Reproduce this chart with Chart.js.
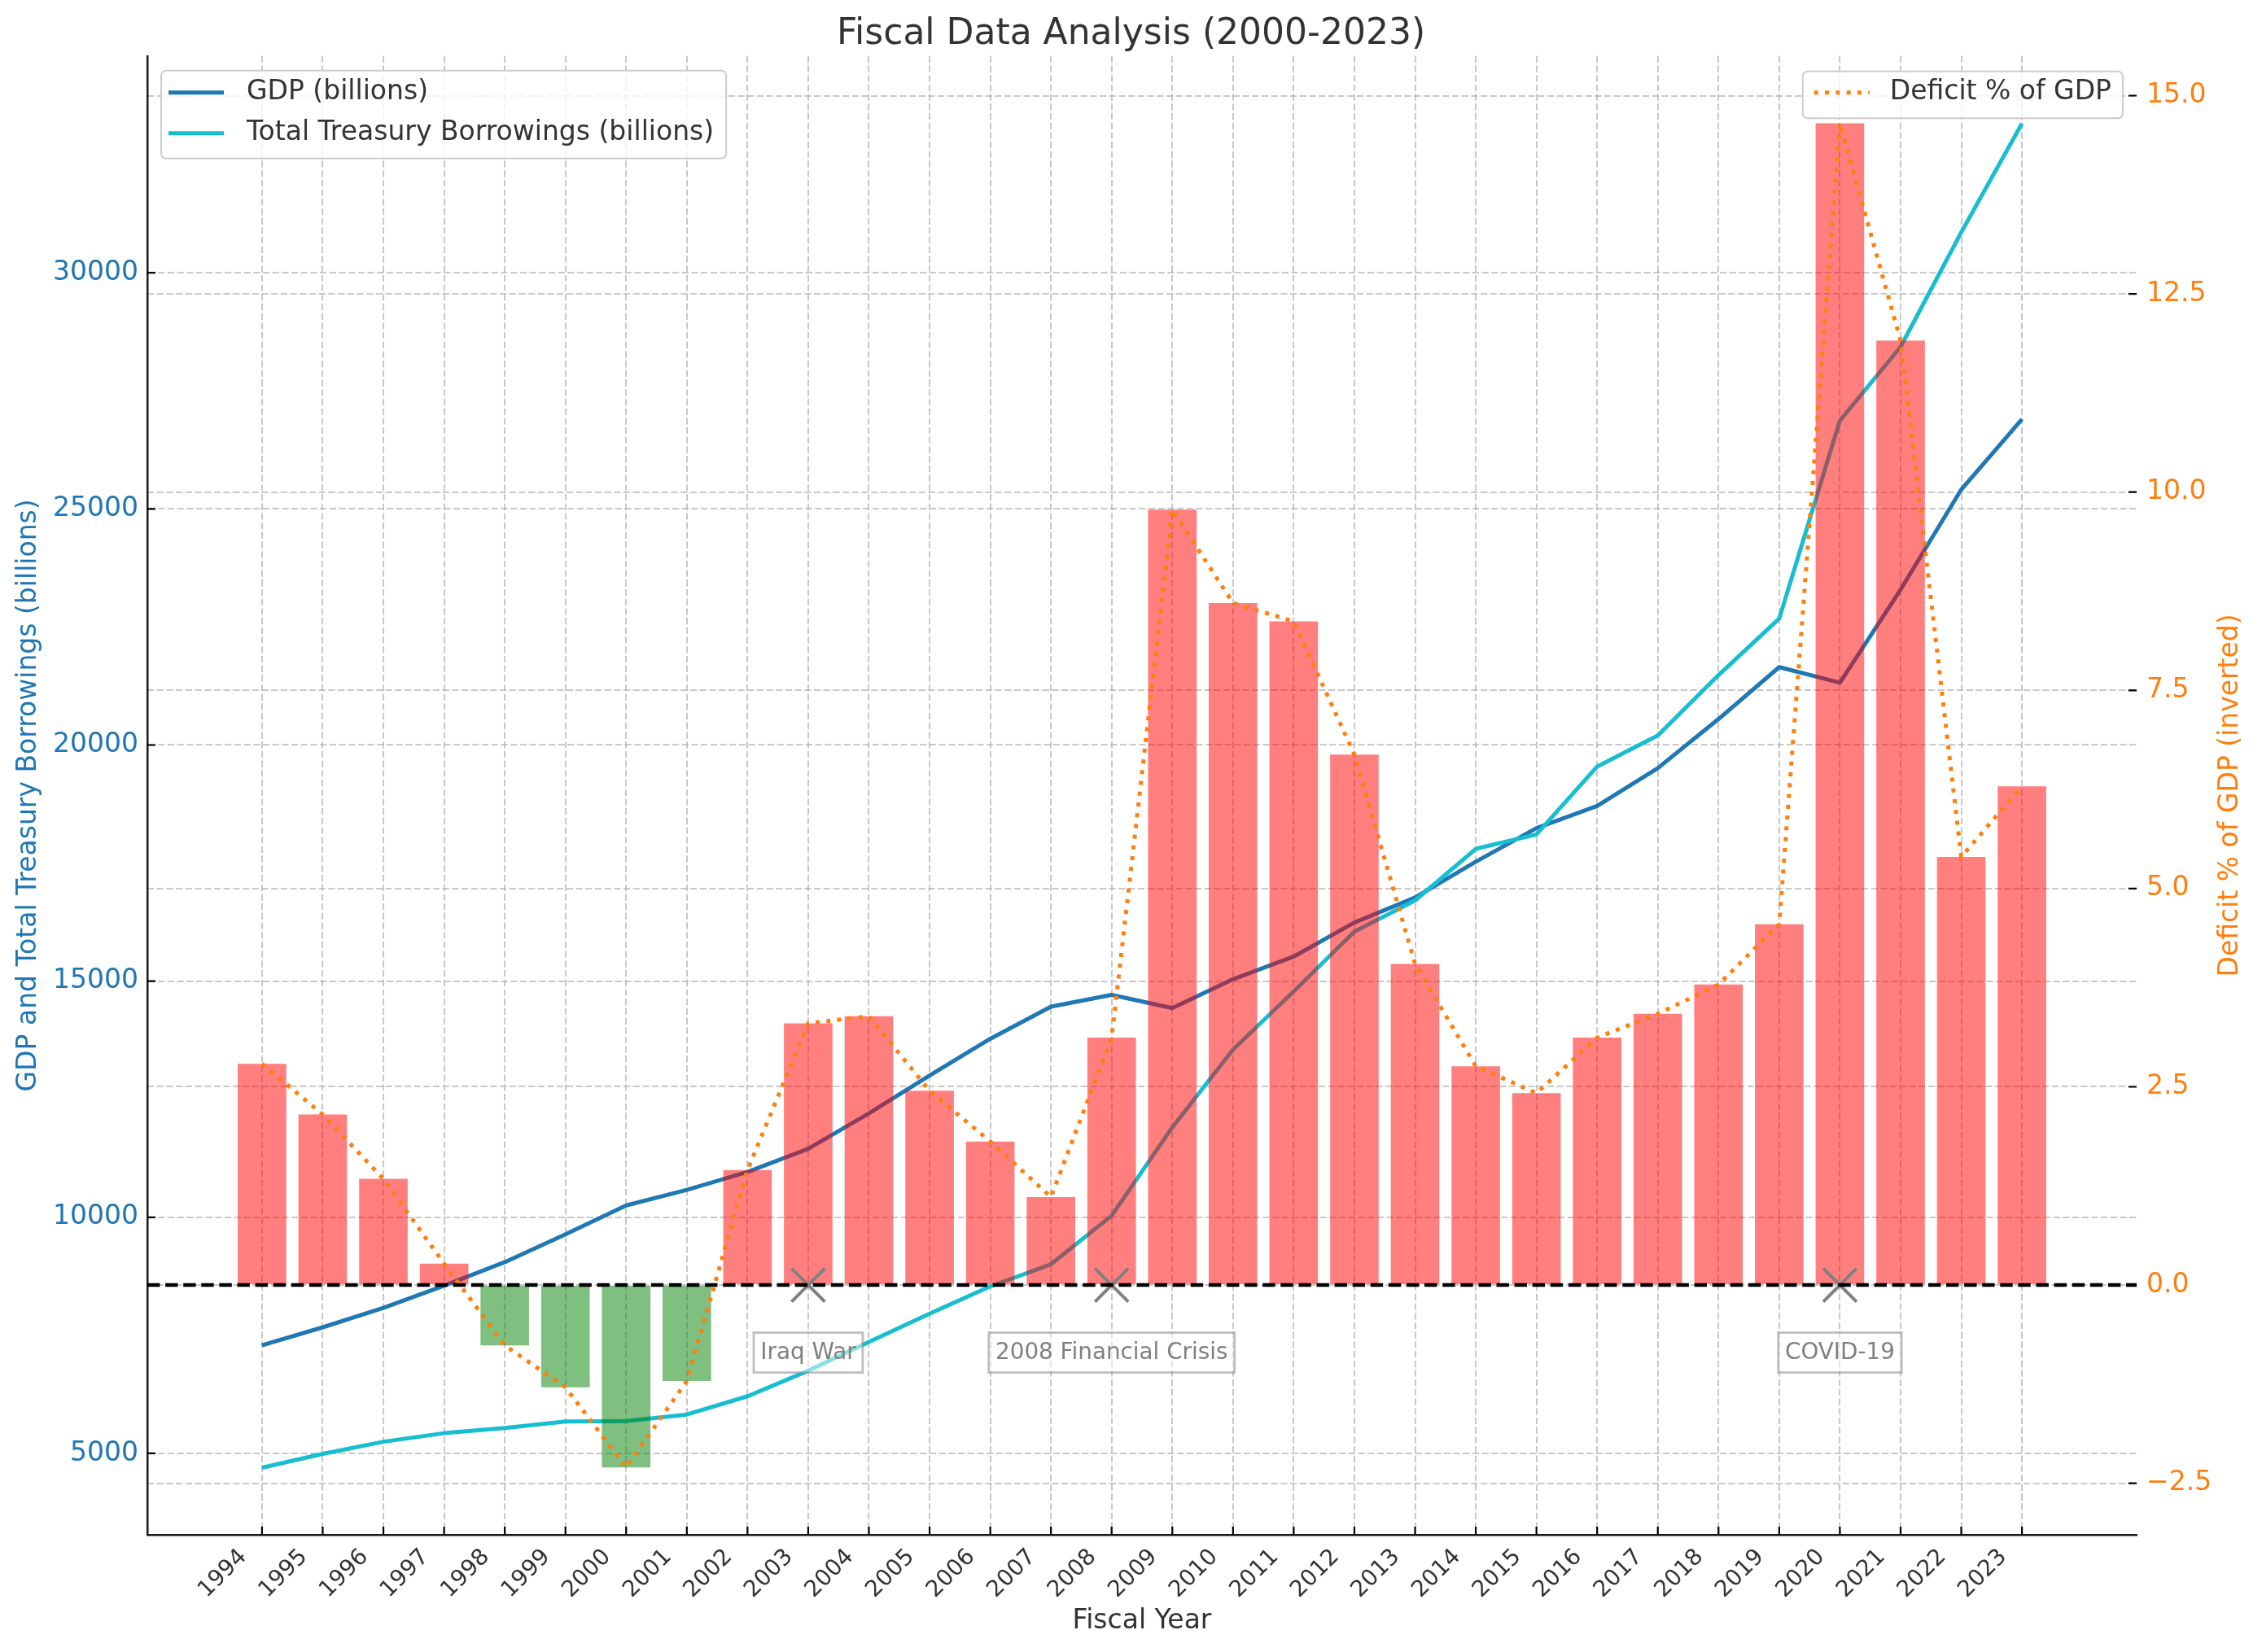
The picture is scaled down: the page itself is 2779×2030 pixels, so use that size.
<!DOCTYPE html>
<html>
<head>
<meta charset="utf-8">
<script src="https://cdn.jsdelivr.net/npm/chart.js@4.4.0/dist/chart.umd.min.js"></script>
<style>
  body { margin: 0; background: #fff; }
</style>
</head>
<body>
<canvas id="myChart" width="2779" height="2030"></canvas>
<script>
// values
const years = [1994, 1995, 1996, 1997, 1998, 1999, 2000, 2001, 2002, 2003,
  2004, 2005, 2006, 2007, 2008, 2009, 2010, 2011, 2012, 2013,
  2014, 2015, 2016, 2017, 2018, 2019, 2020, 2021, 2022, 2023];
const gdp = [7290, 7670, 8080, 8550, 9050, 9640, 10250, 10580, 10960, 11450,
  12200, 13000, 13780, 14460, 14710, 14430, 15040, 15520, 16240, 16770,
  17530, 18240, 18710, 19510, 20550, 21650, 21320, 23290, 25410, 26900];
const borrowings = [4698, 4990, 5247, 5428, 5536, 5675, 5684, 5823, 6210, 6751,
  7360, 7960, 8536, 9005, 10033, 11906, 13551, 14783, 16050, 16708,
  17802, 18106, 19544, 20201, 21480, 22676, 26870, 28430, 30857, 33160];
const deficitPct = [2.79, 2.15, 1.34, 0.27, -0.76, -1.29, -2.30, -1.21, 1.45, 3.30,
  3.39, 2.45, 1.81, 1.11, 3.12, 9.78, 8.60, 8.37, 6.69, 4.05,
  2.76, 2.42, 3.12, 3.42, 3.79, 4.55, 14.65, 11.91, 5.40, 6.29];
const leftTicks = [5000, 10000, 15000, 20000, 25000, 30000];
const rightTicks = [-2.5, 0, 2.5, 5, 7.5, 10, 12.5, 15];
const eventYears = [2003, 2008, 2020];
const eventLabels = ['Iraq War', '2008 Financial Crisis', 'COVID-19'];

const FONT = "'DejaVu Sans', sans-serif";
const GRID = 'rgba(176,176,176,0.7)';
const GRID_DASH = [8.2, 3.5];
const LW = 5;
const DOTS = [5, 8.3];

Chart.defaults.font.family = FONT;

const pts = vals => years.map((yr, i) => ({ x: yr, y: vals[i] }));

// legends, inward ticks, zero line, event boxes, right title
const decor = {
  id: 'decor',
  afterDatasetsDraw(chart) {
    const { ctx, chartArea: a, scales } = chart;
    const y0 = scales.y1.getPixelForValue(0);
    ctx.save();
    ctx.strokeStyle = '#000';
    ctx.lineWidth = 4.4;
    ctx.setLineDash([15.4, 6.7]);
    ctx.beginPath();
    ctx.moveTo(a.left, y0);
    ctx.lineTo(a.right, y0);
    ctx.stroke();
    ctx.setLineDash([]);

    ctx.font = '27.8px ' + FONT;
    ctx.textAlign = 'center';
    ctx.textBaseline = 'middle';
    eventYears.forEach((yr, i) => {
      const cx = scales.x.getPixelForValue(yr);
      const cy = y0 + 83;
      const w = ctx.measureText(eventLabels[i]).width + 16.6;
      const h = 49;
      ctx.fillStyle = 'rgba(255,255,255,0.5)';
      ctx.fillRect(cx - w / 2, cy - h / 2, w, h);
      ctx.strokeStyle = 'rgba(128,128,128,0.5)';
      ctx.lineWidth = 2.8;
      ctx.strokeRect(cx - w / 2, cy - h / 2, w, h);
      ctx.fillStyle = '#808080';
      ctx.fillText(eventLabels[i], cx, cy + 1);
    });
    ctx.restore();
  },
  afterDraw(chart) {
    const { ctx, chartArea: a, scales } = chart;
    ctx.save();
    // ticks point inward
    ctx.strokeStyle = '#000';
    ctx.lineWidth = 2.2;
    ctx.beginPath();
    years.forEach(v => {
      const px = scales.x.getPixelForValue(v);
      ctx.moveTo(px, a.bottom); ctx.lineTo(px, a.bottom - 10);
    });
    leftTicks.forEach(v => {
      const py = scales.y.getPixelForValue(v);
      ctx.moveTo(a.left, py); ctx.lineTo(a.left + 10, py);
    });
    rightTicks.forEach(v => {
      const py = scales.y1.getPixelForValue(v);
      ctx.moveTo(a.right - 10, py); ctx.lineTo(a.right, py);
    });
    ctx.stroke();

    // right axis title, reading bottom to top
    ctx.fillStyle = '#ff7f0e';
    ctx.font = '33px ' + FONT;
    ctx.textAlign = 'center';
    ctx.textBaseline = 'middle';
    ctx.translate(a.right + 115, (a.top + a.bottom) / 2);
    ctx.rotate(-Math.PI / 2);
    ctx.fillText('Deficit % of GDP (inverted)', 0, 0);
    ctx.setTransform(1, 0, 0, 1, 0, 0);

    // legends
    ctx.font = '33px ' + FONT;
    ctx.textAlign = 'left';
    const box = (x, y, w, h) => {
      ctx.beginPath();
      ctx.roundRect(x, y, w, h, 6);
      ctx.fillStyle = 'rgba(255,255,255,0.8)';
      ctx.fill();
      ctx.strokeStyle = '#cccccc';
      ctx.lineWidth = 2;
      ctx.stroke();
    };
    const handle = (x, y, color, dash) => {
      ctx.beginPath();
      ctx.strokeStyle = color;
      ctx.lineWidth = LW;
      ctx.lineCap = 'butt';
      ctx.setLineDash(dash);
      ctx.moveTo(x, y); ctx.lineTo(x + 68, y);
      ctx.stroke();
      ctx.setLineDash([]);
    };
    const left = chart.data.datasets.filter(d => d.yAxisID === 'y');
    const lx = a.left + 17, ly = a.top + 18;
    const lw = Math.max(...left.map(d => ctx.measureText(d.label).width));
    box(lx, ly, 105 + lw + 15, 27 + 50 * (left.length - 1) + 31);
    left.forEach((d, i) => {
      const yy = ly + 27 + 50 * i;
      handle(lx + 9, yy, d.borderColor, []);
      ctx.fillStyle = '#333';
      ctx.fillText(d.label, lx + 105, yy);
    });
    const dl = chart.data.datasets[0];
    const tw = ctx.measureText(dl.label).width;
    const rx = a.right - 17 - (14 + tw + 107);
    const ry = a.top + 19;
    box(rx, ry, 14 + tw + 107, 57.5);
    handle(rx + 14, ry + 26, dl.borderColor, DOTS);
    ctx.fillStyle = '#333';
    ctx.fillText(dl.label, rx + 107, ry + 26);
    ctx.restore();
  }
};

const config = {
  type: 'bar',
  data: {
    datasets: [
      {
        type: 'line', label: 'Deficit % of GDP', data: pts(deficitPct), yAxisID: 'y1',
        borderColor: '#ff7f0e', borderWidth: LW, borderDash: DOTS, borderCapStyle: 'butt',
        pointRadius: 0, fill: false, order: 0
      },
      {
        type: 'line', label: 'events', data: eventYears.map(yr => ({ x: yr, y: 0 })), yAxisID: 'y1',
        showLine: false, pointStyle: 'crossRot', pointRadius: 29, pointBorderColor: '#808080',
        pointBorderWidth: 4, order: 0
      },
      {
        type: 'bar', label: 'deficit bars', data: pts(deficitPct), yAxisID: 'y1',
        backgroundColor: deficitPct.map(v => v >= 0 ? 'rgba(255,0,0,0.5)' : 'rgba(0,128,0,0.5)'),
        borderWidth: 0, barPercentage: 0.8, categoryPercentage: 1, order: 1
      },
      {
        type: 'line', label: 'GDP (billions)', data: pts(gdp), yAxisID: 'y',
        borderColor: '#1f77b4', borderWidth: LW, borderJoinStyle: 'round', pointRadius: 0, order: 3
      },
      {
        type: 'line', label: 'Total Treasury Borrowings (billions)', data: pts(borrowings), yAxisID: 'y',
        borderColor: '#17becf', borderWidth: LW, borderJoinStyle: 'round', pointRadius: 0, order: 2
      }
    ]
  },
  options: {
    responsive: false,
    animation: false,
    events: [],
    layout: { padding: 0 },
    plugins: {
      legend: { display: false },
      tooltip: { enabled: false },
      title: {
        display: true,
        text: 'Fiscal Data Analysis (2000-2023)',
        color: '#333',
        font: { size: 44, weight: 'normal' },
        padding: { top: 16, bottom: 0 }
      }
    },
    scales: {
      x: {
        type: 'linear', min: 1992.11, max: 2024.89, offset: false,
        afterBuildTicks: s => { s.ticks = years.map(v => ({ value: v })); },
        afterFit: s => { s.height = 144; },
        grid: { offset: false, color: GRID, lineWidth: 2, drawTicks: false },
        border: { display: true, color: '#1a1a1a', width: 2.5, dash: GRID_DASH },
        ticks: {
          autoSkip: false, minRotation: 45, maxRotation: 45, color: '#333',
          font: { size: 27.8 }, padding: 11, labelOffset: -23,
          callback: v => String(v)
        },
        title: {
          display: true, text: 'Fiscal Year', color: '#333',
          font: { size: 33 }, padding: { top: 0, bottom: 18 }
        }
      },
      y: {
        type: 'linear', position: 'left', min: 3276, max: 34590,
        afterBuildTicks: s => { s.ticks = leftTicks.map(v => ({ value: v })); },
        afterFit: s => { s.width = 181; },
        grid: { color: GRID, lineWidth: 2, drawTicks: false },
        border: { display: true, color: '#1a1a1a', width: 2.5, dash: GRID_DASH },
        ticks: { color: '#1f77b4', font: { size: 33 }, padding: 11, callback: v => String(v) },
        title: {
          display: true, text: 'GDP and Total Treasury Borrowings (billions)', color: '#1f77b4',
          font: { size: 33 }, padding: { top: 16, bottom: 0 }
        }
      },
      y1: {
        type: 'linear', position: 'right', min: -3.15, max: 15.5,
        afterBuildTicks: s => { s.ticks = rightTicks.map(v => ({ value: v })); },
        afterFit: s => { s.width = 154; },
        grid: { color: GRID, lineWidth: 2, drawTicks: false },
        border: { display: false, dash: GRID_DASH },
        ticks: {
          color: '#ff7f0e', font: { size: 33 }, padding: 12,
          callback: v => v.toFixed(1).replace('-', '\u2212')
        }
      }
    }
  },
  plugins: [decor]
};

var myChart = new Chart(document.getElementById('myChart'), config);
</script>
</body>
</html>
